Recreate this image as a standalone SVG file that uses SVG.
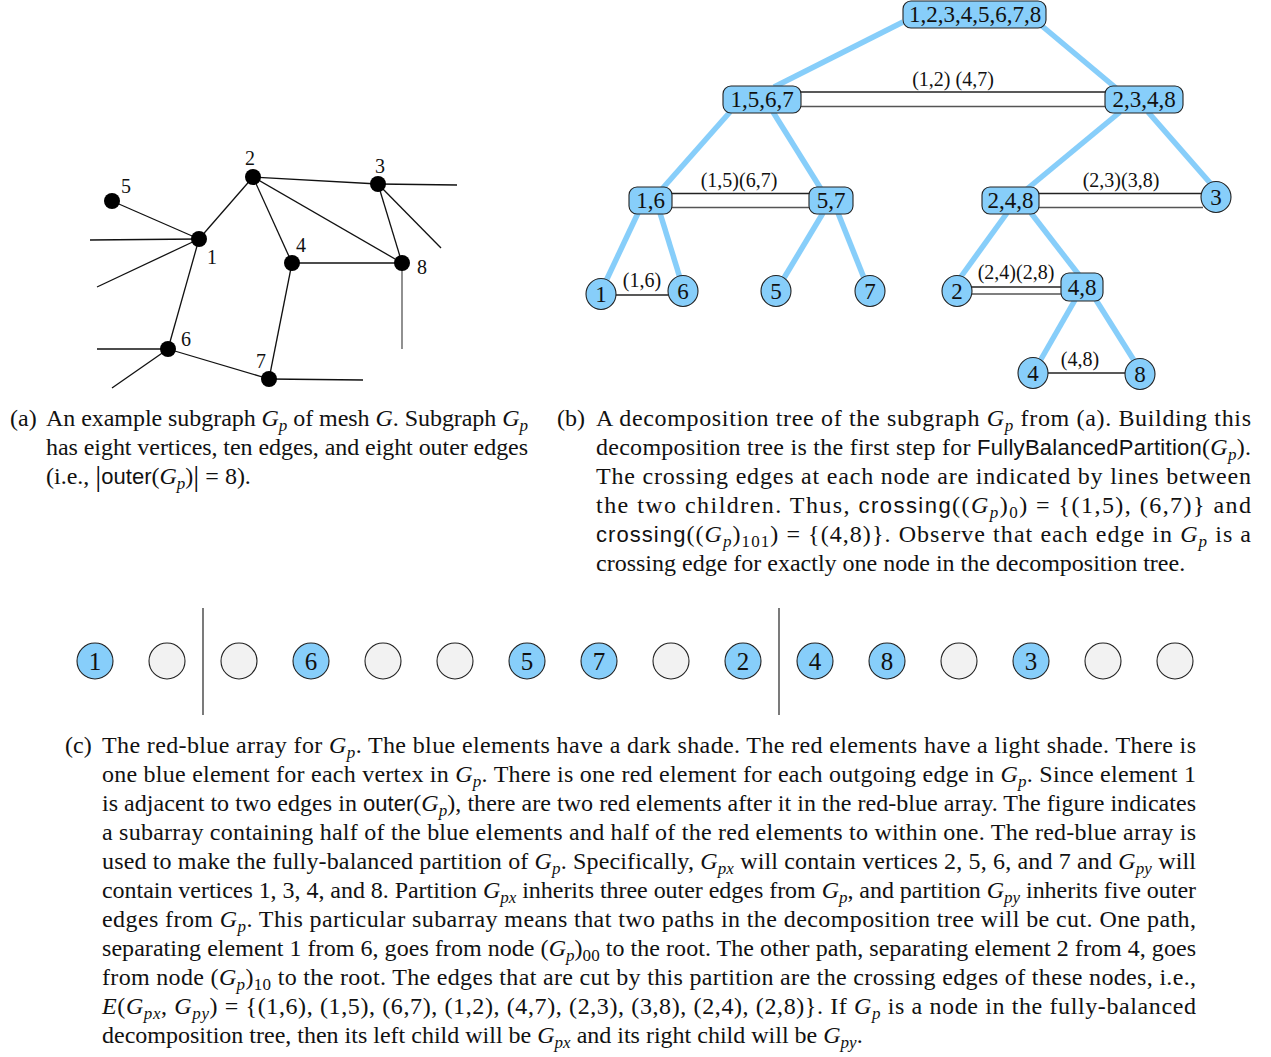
<svg xmlns="http://www.w3.org/2000/svg" width="1271" height="1057" viewBox="0 0 1271 1057">
<style>
.cap{font-family:"Liberation Serif",serif;font-size:24px;fill:#111}
.i{font-style:italic}
.sb{font-size:17px;font-style:italic}
.sn{font-size:17px}
.sf{font-family:"Liberation Sans",sans-serif;font-size:22px}
.bar{font-size:30px}
.ge{stroke:#111;stroke-width:1.3;fill:none}
.gv{fill:#000}
.gl{font-family:"Liberation Serif",serif;font-size:20px;fill:#111}
.te{stroke:#87CEFA;stroke-width:5.5}
.tn{fill:#87CEFA;stroke:#222;stroke-width:1.1}
.tt{font-family:"Liberation Serif",serif;font-size:23px;fill:#111;text-anchor:middle}
.cl{font-family:"Liberation Serif",serif;font-size:20px;fill:#111;text-anchor:middle}
.x1{stroke:#222;stroke-width:1.3}
.x2{stroke:#555;stroke-width:1.6}
.ab{fill:#87CEFA;stroke:#222;stroke-width:1.1}
.ar{fill:#F2F2F2;stroke:#222;stroke-width:1.1}
.at{font-family:"Liberation Serif",serif;font-size:25px;fill:#111;text-anchor:middle}
.dv{stroke:#222;stroke-width:1.2}
</style>
<rect width="1271" height="1057" fill="#fff"/>

<!-- (a) graph -->
<g id="graph-a-edges">
<line class="ge" x1="112" y1="201" x2="199" y2="239"/>
<line class="ge" x1="199" y1="239" x2="253" y2="177"/>
<line class="ge" x1="253" y1="177" x2="378" y2="184"/>
<line class="ge" x1="253" y1="177" x2="292" y2="263"/>
<line class="ge" x1="253" y1="177" x2="402" y2="263"/>
<line class="ge" x1="378" y1="184" x2="402" y2="263"/>
<line class="ge" x1="292" y1="263" x2="402" y2="263"/>
<line class="ge" x1="292" y1="263" x2="269" y2="379"/>
<line class="ge" x1="199" y1="239" x2="168" y2="349"/>
<line class="ge" x1="168" y1="349" x2="269" y2="379"/>
<line class="ge" x1="199" y1="239" x2="90" y2="240"/>
<line class="ge" x1="199" y1="239" x2="97" y2="287"/>
<line class="ge" x1="378" y1="184" x2="457" y2="185"/>
<line class="ge" x1="378" y1="184" x2="441" y2="248"/>
<line class="ge" x1="402" y1="263" x2="402" y2="349" style="stroke:#555"/>
<line class="ge" x1="168" y1="349" x2="97" y2="349"/>
<line class="ge" x1="168" y1="349" x2="112" y2="388"/>
<line class="ge" x1="269" y1="379" x2="363" y2="380"/>
</g>
<g id="graph-a-v1"><circle class="gv" cx="199" cy="239" r="8"/><text class="gl" x="207" y="264">1</text></g>
<g id="graph-a-v2"><circle class="gv" cx="253" cy="177" r="8"/><text class="gl" x="245" y="165">2</text></g>
<g id="graph-a-v3"><circle class="gv" cx="378" cy="184" r="8"/><text class="gl" x="375" y="173">3</text></g>
<g id="graph-a-v4"><circle class="gv" cx="292" cy="263" r="8"/><text class="gl" x="296" y="252">4</text></g>
<g id="graph-a-v5"><circle class="gv" cx="112" cy="201" r="8"/><text class="gl" x="121" y="193">5</text></g>
<g id="graph-a-v6"><circle class="gv" cx="168" cy="349" r="8"/><text class="gl" x="181" y="346">6</text></g>
<g id="graph-a-v7"><circle class="gv" cx="269" cy="379" r="8"/><text class="gl" x="256" y="368">7</text></g>
<g id="graph-a-v8"><circle class="gv" cx="402" cy="263" r="8"/><text class="gl" x="417" y="274">8</text></g>

<!-- (b) tree connectors -->
<g id="tree-connectors">
<line class="te" x1="903" y1="22" x2="774" y2="87"/>
<line class="te" x1="1042" y1="26" x2="1116" y2="88"/>
<line class="te" x1="730" y1="112" x2="662" y2="189"/>
<line class="te" x1="773" y1="112" x2="821" y2="189"/>
<line class="te" x1="1120" y1="112" x2="1027" y2="189"/>
<line class="te" x1="1148" y1="112" x2="1211" y2="184"/>
<line class="te" x1="638" y1="213" x2="606" y2="281"/>
<line class="te" x1="660" y1="213" x2="680" y2="278"/>
<line class="te" x1="823" y1="213" x2="784" y2="278"/>
<line class="te" x1="838" y1="213" x2="864" y2="278"/>
<line class="te" x1="1007" y1="213" x2="960" y2="278"/>
<line class="te" x1="1031" y1="213" x2="1079" y2="275"/>
<line class="te" x1="1075" y1="300" x2="1040" y2="361"/>
<line class="te" x1="1096" y1="300" x2="1135" y2="362"/>
<line class="x1" x1="801" y1="92" x2="1105" y2="92"/>
<line class="x2" x1="801" y1="106.5" x2="1105" y2="106.5"/>
<line class="x1" x1="672" y1="193.5" x2="809" y2="193.5"/>
<line class="x2" x1="672" y1="207.5" x2="809" y2="207.5"/>
<line class="x1" x1="1039" y1="193.5" x2="1203" y2="193.5"/>
<line class="x2" x1="1039" y1="207.5" x2="1203" y2="207.5"/>
<line class="x1" x1="616" y1="295" x2="668" y2="295"/>
<line class="x1" x1="971" y1="287" x2="1061" y2="287"/>
<line class="x2" x1="971" y1="294" x2="1061" y2="294"/>
<line class="x1" x1="1048" y1="373" x2="1125" y2="373"/>
<text class="cl" x="953" y="86">(1,2) (4,7)</text>
<text class="cl" x="739" y="187">(1,5)(6,7)</text>
<text class="cl" x="1121" y="187">(2,3)(3,8)</text>
<text class="cl" x="642" y="287">(1,6)</text>
<text class="cl" x="1016" y="279">(2,4)(2,8)</text>
<text class="cl" x="1080" y="366">(4,8)</text>
</g>

<!-- (b) tree nodes -->
<g id="tree-root"><rect class="tn" x="903" y="1" width="143" height="27" rx="8"/><text class="tt" x="975" y="22">1,2,3,4,5,6,7,8</text></g>
<g id="tree-1567"><rect class="tn" x="723" y="86" width="78" height="27" rx="8"/><text class="tt" x="762" y="107">1,5,6,7</text></g>
<g id="tree-2348"><rect class="tn" x="1105" y="86" width="78" height="27" rx="8"/><text class="tt" x="1144" y="107">2,3,4,8</text></g>
<g id="tree-16"><rect class="tn" x="629" y="187" width="43" height="27" rx="8"/><text class="tt" x="650.5" y="208">1,6</text></g>
<g id="tree-57"><rect class="tn" x="809" y="187" width="44" height="27" rx="8"/><text class="tt" x="831" y="208">5,7</text></g>
<g id="tree-248"><rect class="tn" x="982" y="187" width="57" height="27" rx="8"/><text class="tt" x="1010.5" y="208">2,4,8</text></g>
<g id="tree-3"><ellipse class="tn" cx="1216" cy="197" rx="15" ry="15.5"/><text class="tt" x="1216" y="205">3</text></g>
<g id="tree-48"><rect class="tn" x="1061" y="273" width="42" height="28" rx="8"/><text class="tt" x="1082" y="295">4,8</text></g>
<g id="tree-1"><ellipse class="tn" cx="601" cy="294" rx="15" ry="15.5"/><text class="tt" x="601" y="302">1</text></g>
<g id="tree-6"><ellipse class="tn" cx="683" cy="291" rx="15" ry="15.5"/><text class="tt" x="683" y="299">6</text></g>
<g id="tree-5"><ellipse class="tn" cx="776" cy="291" rx="15" ry="15.5"/><text class="tt" x="776" y="299">5</text></g>
<g id="tree-7"><ellipse class="tn" cx="870" cy="291" rx="15" ry="15.5"/><text class="tt" x="870" y="299">7</text></g>
<g id="tree-2"><ellipse class="tn" cx="957" cy="291" rx="15" ry="15.5"/><text class="tt" x="957" y="299">2</text></g>
<g id="tree-4"><ellipse class="tn" cx="1033" cy="373" rx="15" ry="15.5"/><text class="tt" x="1033" y="381">4</text></g>
<g id="tree-8"><ellipse class="tn" cx="1140" cy="374" rx="15" ry="15.5"/><text class="tt" x="1140" y="382">8</text></g>

<!-- captions (a) -->
<g id="caption-a">
<text class="cap" x="10" y="426">(a)</text>
<text class="cap" x="46" y="426" textLength="482" lengthAdjust="spacing">An example subgraph <tspan class="i">G</tspan><tspan class="sb" dy="5">p</tspan><tspan dy="-5"> of mesh </tspan><tspan class="i">G</tspan>. Subgraph <tspan class="i">G</tspan><tspan class="sb" dy="5">p</tspan></text>
<text class="cap" x="46" y="455" textLength="482" lengthAdjust="spacing">has eight vertices, ten edges, and eight outer edges</text>
<text class="cap" x="46" y="484">(i.e., <tspan class="bar" dy="2">|</tspan><tspan class="sf" dy="-2">outer</tspan>(<tspan class="i">G</tspan><tspan class="sb" dy="5">p</tspan><tspan dy="-5">)</tspan><tspan class="bar" dy="2">|</tspan><tspan dy="-2"> = 8).</tspan></text>
</g>

<!-- captions (b) -->
<g id="caption-b">
<text class="cap" x="557" y="426">(b)</text>
<text class="cap" x="596" y="426" textLength="655" lengthAdjust="spacing">A decomposition tree of the subgraph <tspan class="i">G</tspan><tspan class="sb" dy="5">p</tspan><tspan dy="-5"> from (a).  Building this</tspan></text>
<text class="cap" x="596" y="455" textLength="655" lengthAdjust="spacing">decomposition tree is the first step for <tspan class="sf">FullyBalancedPartition</tspan>(<tspan class="i">G</tspan><tspan class="sb" dy="5">p</tspan><tspan dy="-5">).</tspan></text>
<text class="cap" x="596" y="484" textLength="655" lengthAdjust="spacing">The crossing edges at each node are indicated by lines between</text>
<text class="cap" x="596" y="513" textLength="655" lengthAdjust="spacing">the two children.  Thus, <tspan class="sf">crossing</tspan>((<tspan class="i">G</tspan><tspan class="sb" dy="5">p</tspan><tspan dy="-5">)</tspan><tspan class="sn" dy="5">0</tspan><tspan dy="-5">) = {(1,5), (6,7)} and</tspan></text>
<text class="cap" x="596" y="542" textLength="655" lengthAdjust="spacing"><tspan class="sf">crossing</tspan>((<tspan class="i">G</tspan><tspan class="sb" dy="5">p</tspan><tspan dy="-5">)</tspan><tspan class="sn" dy="5">101</tspan><tspan dy="-5">) = {(4,8)}.  Observe that each edge in </tspan><tspan class="i">G</tspan><tspan class="sb" dy="5">p</tspan><tspan dy="-5"> is a</tspan></text>
<text class="cap" x="596" y="571">crossing edge for exactly one node in the decomposition tree.</text>
</g>

<!-- (c) array -->
<g id="array-divider-1"><line class="dv" x1="203" y1="608" x2="203" y2="715"/></g>
<g id="array-divider-2"><line class="dv" x1="779" y1="608" x2="779" y2="715"/></g>
<g id="arr-0"><circle class="ab" cx="95" cy="661" r="18"/><text class="at" x="95" y="670">1</text></g>
<g id="arr-1"><circle class="ar" cx="167" cy="661" r="18"/></g>
<g id="arr-2"><circle class="ar" cx="239" cy="661" r="18"/></g>
<g id="arr-3"><circle class="ab" cx="311" cy="661" r="18"/><text class="at" x="311" y="670">6</text></g>
<g id="arr-4"><circle class="ar" cx="383" cy="661" r="18"/></g>
<g id="arr-5"><circle class="ar" cx="455" cy="661" r="18"/></g>
<g id="arr-6"><circle class="ab" cx="527" cy="661" r="18"/><text class="at" x="527" y="670">5</text></g>
<g id="arr-7"><circle class="ab" cx="599" cy="661" r="18"/><text class="at" x="599" y="670">7</text></g>
<g id="arr-8"><circle class="ar" cx="671" cy="661" r="18"/></g>
<g id="arr-9"><circle class="ab" cx="743" cy="661" r="18"/><text class="at" x="743" y="670">2</text></g>
<g id="arr-10"><circle class="ab" cx="815" cy="661" r="18"/><text class="at" x="815" y="670">4</text></g>
<g id="arr-11"><circle class="ab" cx="887" cy="661" r="18"/><text class="at" x="887" y="670">8</text></g>
<g id="arr-12"><circle class="ar" cx="959" cy="661" r="18"/></g>
<g id="arr-13"><circle class="ab" cx="1031" cy="661" r="18"/><text class="at" x="1031" y="670">3</text></g>
<g id="arr-14"><circle class="ar" cx="1103" cy="661" r="18"/></g>
<g id="arr-15"><circle class="ar" cx="1175" cy="661" r="18"/></g>

<!-- caption (c) -->
<g id="caption-c">
<text class="cap" x="65" y="753">(c)</text>
<text class="cap" x="102" y="753" textLength="1094" lengthAdjust="spacing">The red-blue array for <tspan class="i">G</tspan><tspan class="sb" dy="5">p</tspan><tspan dy="-5">.  The blue elements have a dark shade.  The red elements have a light shade.  There is</tspan></text>
<text class="cap" x="102" y="782" textLength="1094" lengthAdjust="spacing">one blue element for each vertex in <tspan class="i">G</tspan><tspan class="sb" dy="5">p</tspan><tspan dy="-5">.  There is one red element for each outgoing edge in </tspan><tspan class="i">G</tspan><tspan class="sb" dy="5">p</tspan><tspan dy="-5">.  Since element 1</tspan></text>
<text class="cap" x="102" y="811" textLength="1094" lengthAdjust="spacing">is adjacent to two edges in <tspan class="sf">outer</tspan>(<tspan class="i">G</tspan><tspan class="sb" dy="5">p</tspan><tspan dy="-5">), there are two red elements after it in the red-blue array. The figure indicates</tspan></text>
<text class="cap" x="102" y="840" textLength="1094" lengthAdjust="spacing">a subarray containing half of the blue elements and half of the red elements to within one.  The red-blue array is</text>
<text class="cap" x="102" y="869" textLength="1094" lengthAdjust="spacing">used to make the fully-balanced partition of <tspan class="i">G</tspan><tspan class="sb" dy="5">p</tspan><tspan dy="-5">.  Specifically, </tspan><tspan class="i">G</tspan><tspan class="sb" dy="5">px</tspan><tspan dy="-5"> will contain vertices 2, 5, 6, and 7 and </tspan><tspan class="i">G</tspan><tspan class="sb" dy="5">py</tspan><tspan dy="-5"> will</tspan></text>
<text class="cap" x="102" y="898" textLength="1094" lengthAdjust="spacing">contain vertices 1, 3, 4, and 8. Partition <tspan class="i">G</tspan><tspan class="sb" dy="5">px</tspan><tspan dy="-5"> inherits three outer edges from </tspan><tspan class="i">G</tspan><tspan class="sb" dy="5">p</tspan><tspan dy="-5">, and partition </tspan><tspan class="i">G</tspan><tspan class="sb" dy="5">py</tspan><tspan dy="-5"> inherits five outer</tspan></text>
<text class="cap" x="102" y="927" textLength="1094" lengthAdjust="spacing">edges from <tspan class="i">G</tspan><tspan class="sb" dy="5">p</tspan><tspan dy="-5">.  This particular subarray means that two paths in the decomposition tree will be cut.  One path,</tspan></text>
<text class="cap" x="102" y="956" textLength="1094" lengthAdjust="spacing">separating element 1 from 6, goes from node (<tspan class="i">G</tspan><tspan class="sb" dy="5">p</tspan><tspan dy="-5">)</tspan><tspan class="sn" dy="5">00</tspan><tspan dy="-5"> to the root. The other path, separating element 2 from 4, goes</tspan></text>
<text class="cap" x="102" y="985" textLength="1094" lengthAdjust="spacing">from node (<tspan class="i">G</tspan><tspan class="sb" dy="5">p</tspan><tspan dy="-5">)</tspan><tspan class="sn" dy="5">10</tspan><tspan dy="-5"> to the root.  The edges that are cut by this partition are the crossing edges of these nodes, i.e.,</tspan></text>
<text class="cap" x="102" y="1014" textLength="1094" lengthAdjust="spacing"><tspan class="i">E</tspan>(<tspan class="i">G</tspan><tspan class="sb" dy="5">px</tspan><tspan dy="-5">, </tspan><tspan class="i">G</tspan><tspan class="sb" dy="5">py</tspan><tspan dy="-5">) = {(1,6), (1,5), (6,7), (1,2), (4,7), (2,3), (3,8), (2,4), (2,8)}.  If </tspan><tspan class="i">G</tspan><tspan class="sb" dy="5">p</tspan><tspan dy="-5"> is a node in the fully-balanced</tspan></text>
<text class="cap" x="102" y="1043">decomposition tree, then its left child will be <tspan class="i">G</tspan><tspan class="sb" dy="5">px</tspan><tspan dy="-5"> and its right child will be </tspan><tspan class="i">G</tspan><tspan class="sb" dy="5">py</tspan><tspan dy="-5">.</tspan></text>
</g>
</svg>
